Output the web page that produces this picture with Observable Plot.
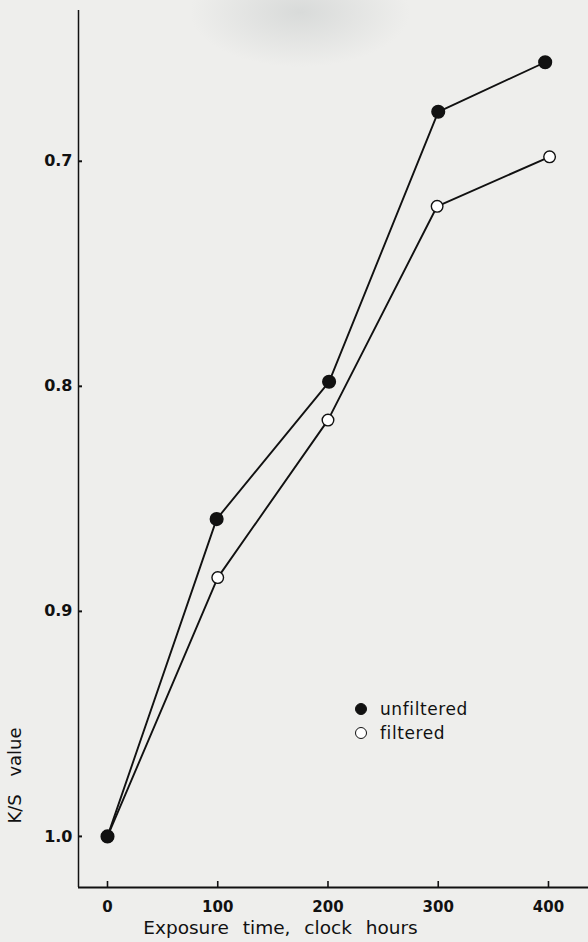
<!DOCTYPE html>
<html>
<head>
<meta charset="utf-8">
<script src="https://cdn.jsdelivr.net/npm/d3@7"></script>
<script src="https://cdn.jsdelivr.net/npm/@observablehq/plot@0.6"></script>
<style>
  html, body { margin: 0; padding: 0; }
  body {
    width: 588px; height: 942px; overflow: hidden;
    background: #eeeeec;
    background-image: radial-gradient(ellipse 110px 55px at 300px 12px, rgba(195,199,199,0.5), rgba(238,238,236,0));
    font-family: "DejaVu Sans", sans-serif;
  }
  #wrap { position: relative; width: 588px; height: 942px; }
  #wrap svg { background: transparent !important; }
  .legend { position: absolute; left: 355px; top: 697px; font-size: 17px; letter-spacing: 0.6px; color: #111; }
  .legend .row { display: flex; align-items: center; height: 24px; }
  .legend .sw { width: 12px; height: 12px; border-radius: 50%; border: 1.4px solid #111; box-sizing: border-box; margin-right: 13px; }
</style>
</head>
<body>
<div id="wrap"></div>
<script>
// Data
const unfilteredHours = [0, 99, 201, 300, 397];
const unfilteredKS   = [1.0, 0.859, 0.798, 0.678, 0.656];
const filteredHours  = [0, 100, 200, 299, 401];
const filteredKS     = [1.0, 0.885, 0.815, 0.720, 0.698];
const xTicks = [0, 100, 200, 300, 400];
const yTicks = [0.7, 0.8, 0.9, 1.0];
const xDomain = [-26.3, 436.3];
const yDomain = [0.633, 1.0227];
const seriesNames = ["unfiltered", "filtered"];
const xTitle = "Exposure time, clock hours";
const yTitle = "K/S value";

const unfiltered = unfilteredHours.map((h, i) => ({hours: h, ks: unfilteredKS[i]}));
const filtered = filteredHours.map((h, i) => ({hours: h, ks: filteredKS[i]}));

const chart = Plot.plot({
  width: 588,
  height: 942,
  marginLeft: 78,
  marginRight: 0,
  marginTop: 10,
  marginBottom: 55,
  style: {background: "transparent", fontFamily: "DejaVu Sans, sans-serif", color: "#111"},
  x: {domain: xDomain},
  y: {domain: yDomain, reverse: true},
  marks: [
    Plot.axisX(xTicks, {tickSize: -6, tickPadding: 20, fontSize: 15, fontWeight: "bold", label: null, tickFormat: d => String(d), strokeWidth: 1.6}),
    Plot.axisY(yTicks, {tickSize: -4, tickPadding: 10, fontSize: 16, fontWeight: "bold", label: null, tickFormat: d => d.toFixed(1), strokeWidth: 2}),
    Plot.ruleX([xDomain[0]], {stroke: "#111", strokeWidth: 1.5}),
    Plot.ruleY([yDomain[1]], {stroke: "#111", strokeWidth: 2.2}),
    Plot.line(unfiltered, {x: "hours", y: "ks", stroke: "#111", strokeWidth: 1.9}),
    Plot.line(filtered, {x: "hours", y: "ks", stroke: "#111", strokeWidth: 1.9}),
    Plot.dot(filtered, {x: "hours", y: "ks", r: 5.8, fill: "#fff", stroke: "#111", strokeWidth: 1.4}),
    Plot.dot(unfiltered, {x: "hours", y: "ks", r: 6.3, fill: "#111", stroke: "#111"}),
    Plot.text([xTitle], {text: d => d, frameAnchor: "bottom", textAnchor: "middle", dx: -53, dy: 46, fontSize: 18.5, fill: "#111"}),
    Plot.text([yTitle], {text: d => d, frameAnchor: "bottom-left", textAnchor: "middle", dx: -58, dy: -112, rotate: -90, fontSize: 18, fill: "#111"})
  ]
});
d3.select(chart).selectAll("text")
  .filter(function() { return this.textContent === xTitle; })
  .style("word-spacing", "8px");
d3.select(chart).selectAll("text")
  .filter(function() { return this.textContent === yTitle; })
  .style("word-spacing", "12px");
document.getElementById("wrap").appendChild(chart);

// Legend
const legend = document.createElement("div");
legend.className = "legend";
seriesNames.forEach((name, i) => {
  const row = document.createElement("div");
  row.className = "row";
  const sw = document.createElement("span");
  sw.className = "sw";
  sw.style.background = i === 0 ? "#111" : "#fff";
  const label = document.createElement("span");
  label.textContent = name;
  row.appendChild(sw);
  row.appendChild(label);
  legend.appendChild(row);
});
document.getElementById("wrap").appendChild(legend);
</script>
</body>
</html>
